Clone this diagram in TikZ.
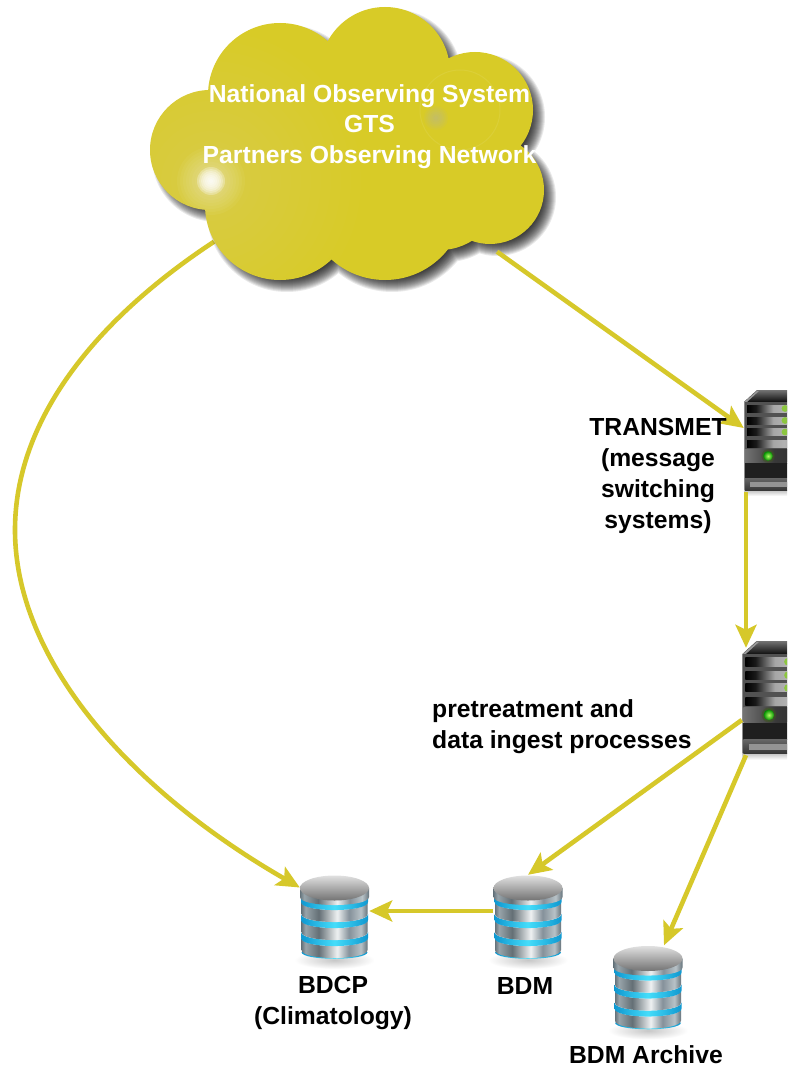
\documentclass[tikz,border=0pt]{standalone}
\usepackage{fontspec}
\setmainfont{Liberation Sans}
\usetikzlibrary{arrows.meta}
\definecolor{cloudcol}{HTML}{D8CB27}
\definecolor{linecol}{HTML}{D6C82A}
\definecolor{HTMLa}{HTML}{66747C}
\definecolor{HTMLb}{HTML}{98A4AA}
\definecolor{HTMLc}{HTML}{646F75}
\definecolor{HTMLd}{HTML}{EEF1F2}
\definecolor{HTMLe}{HTML}{85919A}
\definecolor{HTMLf}{HTML}{B8C2C7}
\definecolor{ringa}{HTML}{1098D0}
\definecolor{ringb}{HTML}{45DDFA}
\definecolor{ledlit}{HTML}{8CC63F}
\pgfdeclarehorizontalshading{steel}{100bp}{
 color(0bp)=(HTMLa);
 color(25bp)=(HTMLa);
 color(28bp)=(HTMLb);
 color(38bp)=(HTMLc);
 color(52bp)=(HTMLd);
 color(61bp)=(HTMLe);
 color(70bp)=(HTMLf);
 color(75bp)=(HTMLa);
 color(100bp)=(HTMLa)}
\pgfdeclarehorizontalshading{ringblue}{100bp}{
 color(0bp)=(ringa);
 color(25bp)=(ringa);
 color(50bp)=(ringb);
 color(75bp)=(ringa);
 color(100bp)=(ringa)}
\pgfdeclarehorizontalshading{bayshade}{100bp}{
 color(0bp)=(black);
 color(25bp)=(black);
 color(33bp)=(black!90!white);
 color(48bp)=(black!35!white);
 color(58bp)=(black!30!white);
 color(75bp)=(black!60!white);
 color(100bp)=(black!60!white)}
\pgfdeclarehorizontalshading{facia}{100bp}{
 color(0bp)=(black!55!white);
 color(25bp)=(black!55!white);
 color(50bp)=(black!78!white);
 color(75bp)=(black!82!white);
 color(100bp)=(black!82!white)}
\newcommand{\cloudshape}[1]{
 (385,72) circle[radius={65+#1}]
 (280,95) circle[radius={72+#1}]
 (475,110) circle[radius={58+#1}]
 (210,150) circle[radius={60+#1}]
 (490,190) circle[radius={54+#1}]
 (280,205) circle[radius={75+#1}]
 (385,200) circle[radius={80+#1}]
 (440,190) circle[radius={60+#1}]
 (360,130) circle[radius={90+#1}]
 (460,150) circle[radius={60+#1}]
}
\tikzset{
 arr/.style={draw=linecol,line width=4.6pt,-{Stealth[length=23pt,width=21pt,inset=5pt]}},
 lab/.style={font=\fontsize{24.7}{31}\selectfont\bfseries,text=black,inner sep=0pt,align=center},
 cloudlab/.style={font=\fontsize{24.7}{30.5}\selectfont\bfseries,text=white,inner sep=0pt,align=center},
 server/.pic={
  \shade[top color=black!25,bottom color=white] (0,100) rectangle (60,106);
  \shade[top color=black!55,bottom color=black!95] (0,12) -- (13,0) -- (60,0) -- (60,12) -- cycle;
  \fill[black!40] (0,12) -- (13,1) -- (15,1) -- (3,12) -- cycle;
  \fill[black!68] (0,12) rectangle (60,72);
  \fill[black!45] (0,12) rectangle (1.2,100);
  \foreach \y in {15,27,38,50}{
   \shade[shading=bayshade] (3,\y) rectangle (60,\y+7.5);
  }
  \fill[ledlit] (41,18.5) circle[radius=3.4];
  \fill[ledlit] (41,30.5) circle[radius=3.4];
  \fill[ledlit] (41,42) circle[radius=3.4];
  \shade[shading=facia] (1.2,59) rectangle (60,73);
  \fill[ledlit!45!black,opacity=.5] (24,66) circle[radius=6.6];
  \shade[inner color=white!55!green!70!yellow,outer color=green!55!black] (24,66) circle[radius=4.8];
  \fill[black!88] (1.2,73) rectangle (60,88);
  \shade[top color=black!60,bottom color=black!78] (1.2,88) rectangle (60,100);
  \fill[black!42] (6,92) rectangle (60,97);
 },
 database/.pic={
  \shade[inner color=black!22,outer color=white] (0,42) ellipse[x radius=40,y radius=9];
  % thin glowing rim under the lowest disc
  \shade[shading=ringblue] (-33,34) .. controls (-33,43) and (33,43) .. (33,34) -- cycle;
  \foreach \a in {20,2,-16}{
   \shade[shading=steel] (-33,\a) .. controls (-33,\a+10.7) and (33,\a+10.7) .. (33,\a) -- (33,\a+12) .. controls (33,\a+22.7) and (-33,\a+22.7) .. (-33,\a+12) -- cycle;
   \shade[shading=ringblue] (-33.5,\a-6) .. controls (-33.5,\a+4.7) and (33.5,\a+4.7) .. (33.5,\a-6) -- (33.5,\a) .. controls (33.5,\a+10.7) and (-33.5,\a+10.7) .. (-33.5,\a) -- cycle;
  }
  \shade[shading=steel] (-34.5,-30) -- (34.5,-30) -- (34.5,-21) .. controls (34.5,-10.3) and (-34.5,-10.3) .. (-34.5,-21) -- cycle;
  \shade[top color=black!12,bottom color=black!55] (0,-30) ellipse[x radius=34.5,y radius=12.5];
 }
}
\begin{document}
\begin{tikzpicture}[x=1pt,y=-1pt]
\clip (0,0) rectangle (787,1067);
\fill[white] (0,0) rectangle (787,1067);
% place-holders that carry the connector anchors
\node[inner sep=0pt,minimum width=393pt,minimum height=273pt] (cloud) at (347,143) {};
\node[inner sep=0pt,minimum width=43pt,minimum height=102pt] (s1) at (765.5,441) {};
\node[inner sep=0pt,minimum width=45pt,minimum height=114pt] (s2) at (764.5,698) {};
\node[inner sep=0pt,minimum width=69pt,minimum height=85pt] (bdcp) at (334.5,917.5) {};
\node[inner sep=0pt,minimum width=69pt,minimum height=85pt] (bdm) at (528,917.5) {};
\node[inner sep=0pt,minimum width=69pt,minimum height=85pt] (arch) at (648,988) {};
% objects
\pic at (744,390) {server};
\pic[scale=1.12] at (742,641) {server};
\pic at (334.5,918) {database};
\pic at (528,918) {database};
\pic at (648,988.5) {database};
% left connector runs under the cloud
\draw[arr] ([shift={(-133pt,38pt)}]cloud.south) .. controls (95,320) and (15,420) .. (15,530) .. controls (15,660) and (130,790) .. ([yshift=30pt]bdcp.west);
% cloud shadow
\foreach \e in {5,4,...,-12}{
 \fill[black,opacity=.085,shift={(7,7)}] \cloudshape{\e};
}
\fill[cloudcol] \cloudshape{0};
\begin{scope}
 \clip \cloudshape{0};
 \foreach \r in {150,140,...,10}{
  \fill[white,opacity=.012] (211,181) circle[radius=\r];
 }
 \foreach \r in {34,31,...,10}{
  \fill[white,opacity=.045] (211,181) circle[radius=\r];
 }
 \foreach \r in {14,12,...,2}{
  \fill[white,opacity=.28] (211,181) circle[radius=\r];
 }
 \draw[white,opacity=.08,line width=1pt] (460,110) circle[radius=40];
 \foreach \r in {12,10,...,2}{
  \fill[black!30!white,opacity=.09] (436,118) circle[radius=\r];
 }
\end{scope}
% connectors
\draw[arr] ([shift={(150pt,28pt)}]cloud.south) -- ([yshift=13pt]s1.west);
\draw[arr] ([xshift=-19.5pt]s1.south) -- ([shift={(-18.5pt,-7pt)}]s2.north);
\draw[arr] ([yshift=-22pt]s2.west) -- (bdm.north);
\draw[arr] ([xshift=-18.5pt]s2.south) -- ([xshift=16pt]arch.north);
\draw[arr] ([yshift=6.5pt]bdm.west) -- ([yshift=6.5pt]bdcp.east);
% labels
\node[cloudlab] (cloudtext) at (369.5,126.5) {National Observing System\\GTS\\Partners Observing Network};
\node[lab] (transmet) at (658,476) {TRANSMET\\(message\\switching\\systems)};
\node[lab,align=left,anchor=west] (pre) at (432,727) {pretreatment and\\data ingest processes};
\node[lab] (bdcptext) at (333,1003) {BDCP\\(Climatology)};
\node[lab] (bdmtext) at (525,986) {BDM};
\node[lab] (archtext) at (646,1055) {BDM Archive};
\end{tikzpicture}
\end{document}
